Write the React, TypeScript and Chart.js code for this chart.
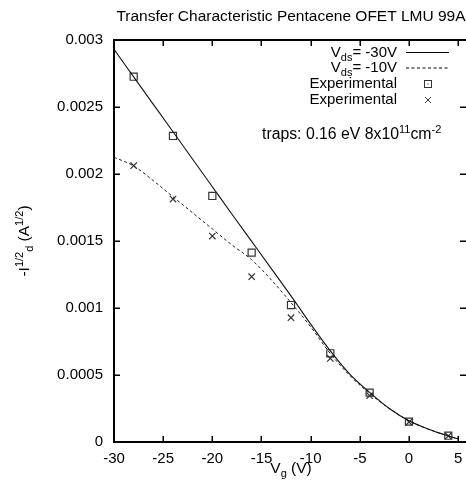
import React, { useEffect, useRef } from "react";
import { Chart, registerables } from "chart.js";

Chart.register(...registerables);

// ---- data ----
const gateVoltage = [-28, -24, -20, -16, -12, -8, -4, 0, 4];
const expVds30 = [0.002726, 0.002284, 0.001836, 0.001413, 0.001022, 0.000662, 0.000368, 0.000152, 0.000047];
const expVds10 = [0.002062, 0.001813, 0.001537, 0.001234, 0.000928, 0.000624, 0.000346, 0.000149, 0.000045];

const fitVoltage = [-30, -28, -26, -24, -22, -20, -18, -16, -14, -12, -10, -8, -6, -4, -2, 0, 2, 4, 5];
const fitVds30 = [0.00293, 0.002725, 0.00252, 0.002315, 0.00211, 0.001905, 0.0017, 0.001497, 0.001294, 0.00109, 0.00088, 0.00068, 0.000505, 0.00037, 0.00025, 0.000158, 0.000095, 0.000045, 0.000022];
const fitVds10 = [0.002125, 0.00206, 0.00195, 0.00183, 0.00171, 0.00159, 0.00147, 0.00136, 0.00121, 0.00104, 0.00086, 0.00066, 0.000495, 0.000362, 0.00025, 0.000158, 0.000095, 0.000045, 0.000022];

const xTicks = [-30, -25, -20, -15, -10, -5, 0, 5];
const yTicks = [0, 0.0005, 0.001, 0.0015, 0.002, 0.0025, 0.003];
const yTickLabels = ["0", "0.0005", "0.001", "0.0015", "0.002", "0.0025", "0.003"];

const titleText = "Transfer Characteristic Pentacene OFET LMU 99A";
const legendLabels = ["-30V", "-10V", "Experimental", "Experimental"];

type Seg = { t: string; mode?: "sub" | "sup" };

const FONT = "'Liberation Sans', Arial, Helvetica, sans-serif";
const BASE = 15.5;
const SMALL = 11;

function segFont(s: Seg, base: number) {
  return `${s.mode ? SMALL : base}px ${FONT}`;
}
function richWidth(ctx: CanvasRenderingContext2D, segs: Seg[], base: number) {
  let w = 0;
  for (const s of segs) {
    ctx.font = segFont(s, base);
    w += ctx.measureText(s.t).width;
  }
  return w;
}
function drawRich(
  ctx: CanvasRenderingContext2D,
  segs: Seg[],
  x: number,
  y: number,
  align: "left" | "right" | "center",
  base: number = BASE
) {
  const w = richWidth(ctx, segs, base);
  let cx = align === "left" ? x : align === "right" ? x - w : x - w / 2;
  ctx.textAlign = "left";
  ctx.textBaseline = "alphabetic";
  for (const s of segs) {
    ctx.font = segFont(s, base);
    const dy = s.mode === "sub" ? 4 : s.mode === "sup" ? -6 : 0;
    ctx.fillText(s.t, cx, y + dy);
    cx += ctx.measureText(s.t).width;
  }
}

const decorPlugin = {
  id: "decor",
  afterDraw(chart: any) {
    const ctx: CanvasRenderingContext2D = chart.ctx;
    const { left, right, top, bottom } = chart.chartArea;
    const xs = chart.scales.x;
    const ys = chart.scales.y;
    ctx.save();
    ctx.strokeStyle = "#000";
    ctx.fillStyle = "#000";
    // ticks
    ctx.lineWidth = 1.5;
    ctx.beginPath();
    for (const v of xTicks) {
      const px = Math.round(xs.getPixelForValue(v)) + 0.25;
      ctx.moveTo(px, bottom);
      ctx.lineTo(px, bottom - 6);
      ctx.moveTo(px, top);
      ctx.lineTo(px, top + 6);
    }
    for (const v of yTicks) {
      const py = Math.round(ys.getPixelForValue(v)) + 0.25;
      ctx.moveTo(left, py);
      ctx.lineTo(left + 6, py);
      ctx.moveTo(right, py);
      ctx.lineTo(right - 6, py);
    }
    ctx.stroke();
    // border
    ctx.lineWidth = 2;
    ctx.beginPath();
    ctx.moveTo(right, top);
    ctx.lineTo(left, top);
    ctx.lineTo(left, bottom);
    ctx.lineTo(right, bottom);
    ctx.stroke();

    // tick labels
    ctx.font = `15px ${FONT}`;
    ctx.textAlign = "center";
    ctx.textBaseline = "alphabetic";
    for (const v of xTicks) {
      ctx.fillText(String(v), xs.getPixelForValue(v), 463);
    }
    ctx.textAlign = "right";
    ctx.textBaseline = "middle";
    yTicks.forEach((v, i) => {
      ctx.fillText(yTickLabels[i], 103, ys.getPixelForValue(v));
    });

    // title
    ctx.font = `${BASE}px ${FONT}`;
    ctx.textAlign = "center";
    ctx.textBaseline = "alphabetic";
    ctx.fillText(titleText, 291, 21);

    // x label
    drawRich(ctx, [{ t: "V" }, { t: "g", mode: "sub" }, { t: " (V)" }], 291, 473, "center");

    // y label (rotated)
    ctx.save();
    ctx.translate(29, 241);
    ctx.rotate(-Math.PI / 2);
    drawRich(
      ctx,
      [{ t: "-I" }, { t: "1/2", mode: "sup" }, { t: "d", mode: "sub" }, { t: " (A" }, { t: "1/2", mode: "sup" }, { t: ")" }],
      0,
      0,
      "center"
    );
    ctx.restore();

    // legend
    const lx = 397;
    drawRich(ctx, [{ t: "V" }, { t: "ds", mode: "sub" }, { t: "= " + legendLabels[0] }], lx, 57, "right", 15);
    drawRich(ctx, [{ t: "V" }, { t: "ds", mode: "sub" }, { t: "= " + legendLabels[1] }], lx, 72, "right", 15);
    drawRich(ctx, [{ t: legendLabels[2] }], lx, 88, "right", 15);
    drawRich(ctx, [{ t: legendLabels[3] }], lx, 103.5, "right", 15);
    ctx.lineWidth = 1;
    ctx.beginPath();
    ctx.moveTo(406, 52.5);
    ctx.lineTo(449, 52.5);
    ctx.stroke();
    ctx.setLineDash([3, 2.5]);
    ctx.beginPath();
    ctx.moveTo(406, 68);
    ctx.lineTo(449, 68);
    ctx.stroke();
    ctx.setLineDash([]);
    ctx.strokeStyle = "#333";
    ctx.strokeRect(424.5, 80.5, 7, 7);
    ctx.fillRect(427.5, 83.5, 1, 1);
    ctx.beginPath();
    ctx.moveTo(425, 97);
    ctx.lineTo(431, 103);
    ctx.moveTo(431, 97);
    ctx.lineTo(425, 103);
    ctx.stroke();

    // traps annotation
    ctx.fillStyle = "#000";
    drawRich(
      ctx,
      [{ t: "traps: 0.16 eV 8x10" }, { t: "11", mode: "sup" }, { t: "cm" }, { t: "-2", mode: "sup" }],
      262,
      139,
      "left",
      15.8
    );
    ctx.restore();
  },
};

export default function App() {
  const ref = useRef<HTMLCanvasElement | null>(null);
  useEffect(() => {
    if (!ref.current) return;
    const chart = new Chart(ref.current, {
      type: "line",
      data: {
        datasets: [
          {
            label: "Vds=-30V",
            data: fitVoltage.map((x, i) => ({ x, y: fitVds30[i] })),
            borderColor: "#111",
            borderWidth: 1.1,
            pointRadius: 0,
            cubicInterpolationMode: "monotone",
            fill: false,
          },
          {
            label: "Vds=-10V",
            data: fitVoltage.map((x, i) => ({ x, y: fitVds10[i] })),
            borderColor: "#222",
            borderWidth: 1,
            borderDash: [3, 2.5],
            pointRadius: 0,
            cubicInterpolationMode: "monotone",
            fill: false,
          },
          {
            label: "Experimental",
            data: gateVoltage.map((x, i) => ({ x, y: expVds30[i] })),
            showLine: false,
            pointStyle: "rect",
            pointRadius: 5,
            pointBorderWidth: 1.2,
            pointBorderColor: "#333",
            pointBackgroundColor: "rgba(0,0,0,0)",
          },
          {
            label: "Experimental",
            data: gateVoltage.map((x, i) => ({ x, y: expVds10[i] })),
            showLine: false,
            pointStyle: "crossRot",
            pointRadius: 4.5,
            pointBorderWidth: 1.2,
            pointBorderColor: "#333",
          },
        ],
      },
      options: {
        animation: false,
        responsive: false,
        devicePixelRatio: 1,
        layout: { autoPadding: false, padding: { top: 40, right: 0, left: 0, bottom: 0 } },
        plugins: { legend: { display: false }, tooltip: { enabled: false }, title: { display: false } },
        scales: {
          x: {
            type: "linear",
            min: -30,
            max: 5.8,
            grid: { display: false },
            border: { display: false },
            ticks: { display: false },
            afterBuildTicks: (s: any) => {
              s.ticks = xTicks.map((v) => ({ value: v }));
            },
            afterFit: (s: any) => {
              s.height = 39;
            },
          },
          y: {
            type: "linear",
            min: 0,
            max: 0.003,
            grid: { display: false },
            border: { display: false },
            ticks: { display: false },
            afterBuildTicks: (s: any) => {
              s.ticks = yTicks.map((v) => ({ value: v }));
            },
            afterFit: (s: any) => {
              s.width = 114;
            },
          },
        },
      },
      plugins: [decorPlugin],
    } as any);
    return () => chart.destroy();
  }, []);
  return (
    <div style={{ position: "absolute", left: 0, top: 0, width: 466, height: 481, background: "#fff" }}>
      <canvas ref={ref} width={466} height={481} style={{ width: 466, height: 481, display: "block" }} />
    </div>
  );
}
